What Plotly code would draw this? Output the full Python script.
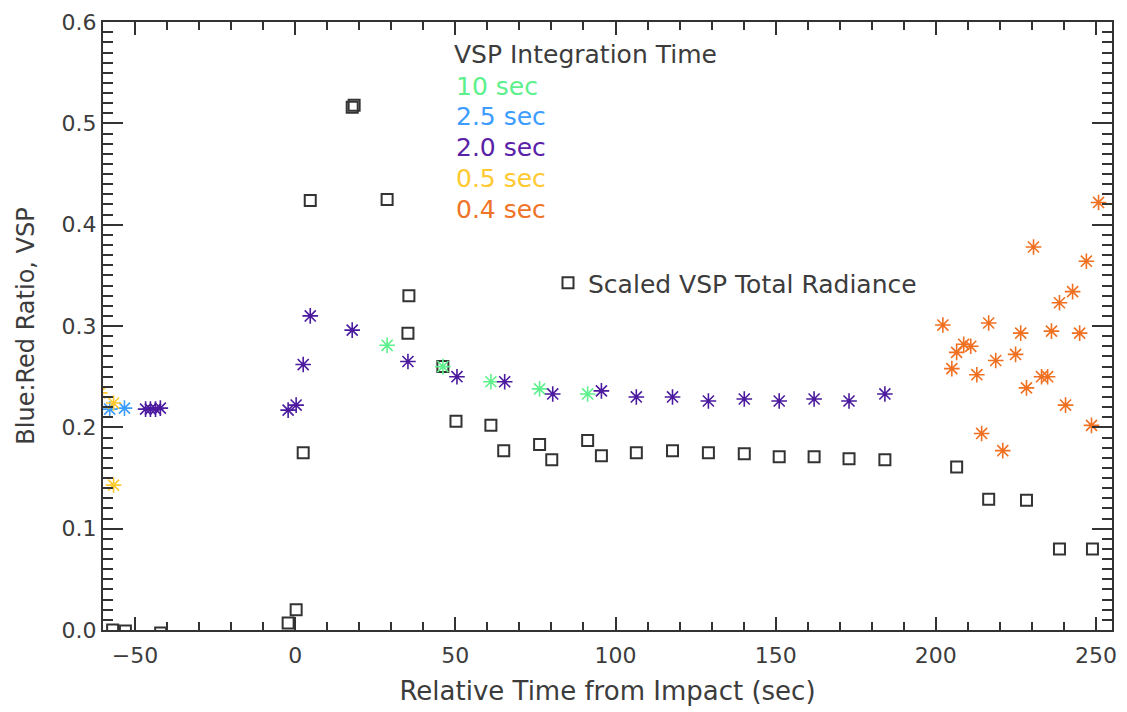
import plotly.graph_objects as go

# ---- data ----
sq_x = [-57, -53, -42, -2.2, 0.3, 2.5, 4.7, 17.8, 18.4, 28.7, 35.5, 35.2, 46.1, 50.2, 61.1, 65.1,
        76.3, 80.1, 91.3, 95.6, 106.5, 117.8, 129.0, 140.2, 151.1, 162.0, 172.9, 184.1,
        206.5, 216.5, 228.3, 238.6, 248.9]
sq_y = [0.000, -0.001, -0.003, 0.007, 0.020, 0.175, 0.424, 0.516, 0.518, 0.425, 0.330, 0.293, 0.260, 0.206, 0.202, 0.177,
        0.183, 0.168, 0.187, 0.172, 0.175, 0.177, 0.175, 0.174, 0.171, 0.171, 0.169, 0.168,
        0.161, 0.129, 0.128, 0.080, 0.080]

s10_x = [28.7, 46.1, 61.1, 76.3, 91.3]
s10_y = [0.281, 0.260, 0.245, 0.238, 0.233]

s25_x = [-57.9, -53.3]
s25_y = [0.218, 0.219]

s20_x = [-46.7, -45.2, -43.6, -42.1, -2.2, 0.3, 2.5, 4.7, 17.8, 35.2, 50.5, 65.4, 80.4, 95.6,
         106.5, 117.8, 129.0, 140.2, 151.1, 162.0, 172.9, 184.1]
s20_y = [0.218, 0.218, 0.218, 0.219, 0.217, 0.222, 0.262, 0.310, 0.296, 0.265, 0.250, 0.245, 0.233, 0.236,
         0.230, 0.230, 0.226, 0.228, 0.226, 0.228, 0.226, 0.233]

s05_x = [-61.0, -56.7, -56.7]
s05_y = [0.234, 0.224, 0.143]

s04_x = [230.5, 247.0, 242.7, 238.6, 202.2, 216.5, 226.5, 236.1, 244.9, 208.7, 210.9, 206.5, 224.9,
         218.7, 205.0, 212.8, 233.0, 234.9, 228.3, 240.5, 248.6, 214.3, 220.9, 250.8]
s04_y = [0.378, 0.364, 0.334, 0.323, 0.301, 0.303, 0.293, 0.295, 0.293, 0.282, 0.280, 0.274, 0.272,
         0.266, 0.258, 0.252, 0.250, 0.250, 0.239, 0.222, 0.202, 0.194, 0.177, 0.422]

legend_labels = ["10 sec", "2.5 sec", "2.0 sec", "0.5 sec", "0.4 sec"]
legend_colors = ["#5ef08c", "#3d9dff", "#5a22a8", "#ffc930", "#f07428"]
star_colors = ["#5ef08c", "#3d9dff", "#4b1a9e", "#ffc930", "#f07022"]

X_RANGE = [-60, 255]
Y_RANGE = [0, 0.6001]

FONT = "DejaVu Sans"
TXT = "#3c3c3c"
AX = "#333333"

fig = go.Figure()

fig.add_trace(go.Scatter(
    x=sq_x, y=sq_y, mode="markers", name="Scaled VSP Total Radiance",
    marker=dict(symbol="square-open", size=11, color="#333333", line=dict(width=2, color="#333333")),
    showlegend=True))

for xs, ys, c in [(s10_x, s10_y, star_colors[0]), (s25_x, s25_y, star_colors[1]),
                  (s20_x, s20_y, star_colors[2]), (s05_x, s05_y, star_colors[3]),
                  (s04_x, s04_y, star_colors[4])]:
    fig.add_trace(go.Scatter(
        x=xs, y=ys, mode="markers", showlegend=False,
        marker=dict(symbol="asterisk-open", size=13, color=c, line=dict(width=1.6, color=c))))

# invisible trace to create mirrored top/right axes (for minor ticks on all sides)
fig.add_trace(go.Scatter(x=sq_x, y=sq_y, xaxis="x2", yaxis="y2", mode="markers",
                         marker=dict(opacity=0), hoverinfo="skip", showlegend=False))

# plot area in screen pixels (page body has an 8px default margin)
OFF = 8
L, R, T, B = 103, 1112, 22, 630
def px(x):
    return (x - L) / (R - L)
def py(y):
    return (B - y) / (B - T)

anns = [dict(text="VSP Integration Time", x=px(452), y=py(55), xref="paper", yref="paper",
             xanchor="left", yanchor="middle", showarrow=False, font=dict(family=FONT, size=25, color=TXT))]
for i, (lab, col) in enumerate(zip(legend_labels, legend_colors)):
    anns.append(dict(text=lab, x=px(454), y=py(86 + i * 30.8), xref="paper", yref="paper",
                     xanchor="left", yanchor="middle", showarrow=False,
                     font=dict(family=FONT, size=25, color=col)))

fig.update_layout(
    width=1127, height=712,
    margin=dict(l=L - OFF, r=1127 - (R - OFF), t=T - OFF, b=712 - (B - OFF)),
    paper_bgcolor="white", plot_bgcolor="white",
    font=dict(family=FONT, size=20, color=TXT),
    annotations=anns,
    legend=dict(x=px(548), y=py(283), xanchor="left", yanchor="middle",
                bgcolor="rgba(0,0,0,0)", font=dict(family=FONT, size=25, color=TXT),
                itemwidth=30),
)

common = dict(ticks="inside", tickwidth=1.5, tickcolor=AX, showline=True, linecolor=AX, linewidth=2,
              showgrid=False, zeroline=False, automargin=False)

fig.update_layout(
    xaxis=dict(range=X_RANGE, tick0=0, dtick=50, ticklen=13, mirror=True, ticklabelstandoff=5,
               ticklabeloverflow="allow",
               minor=dict(dtick=10, ticks="inside", ticklen=8, tickwidth=1.5, tickcolor=AX, showgrid=False),
               title=dict(text="Relative Time from Impact (sec)", font=dict(family=FONT, size=26, color=TXT), standoff=14),
               tickfont=dict(family=FONT, size=22, color=TXT), **common),
    yaxis=dict(range=Y_RANGE, tick0=0, dtick=0.1, tickformat=".1f", ticklen=20, mirror=True,
               ticklabeloverflow="allow",
               minor=dict(dtick=0.01, ticks="inside", ticklen=10, tickwidth=1.5, tickcolor=AX, showgrid=False),
               title=dict(text="Blue:Red Ratio, VSP", font=dict(family=FONT, size=24, color=TXT), standoff=20),
               tickfont=dict(family=FONT, size=22, color=TXT), **common),
    xaxis2=dict(range=X_RANGE, overlaying="x", side="top", matches="x", tick0=0, dtick=50, ticklen=13,
                showticklabels=False,
                minor=dict(dtick=10, ticks="inside", ticklen=8, tickwidth=1.5, tickcolor=AX, showgrid=False),
                **common),
    yaxis2=dict(range=Y_RANGE, overlaying="y", side="right", matches="y", tick0=0, dtick=0.1, ticklen=20,
                showticklabels=False,
                minor=dict(dtick=0.01, ticks="inside", ticklen=10, tickwidth=1.5, tickcolor=AX, showgrid=False),
                **common),
)

fig.write_html("out.html")
